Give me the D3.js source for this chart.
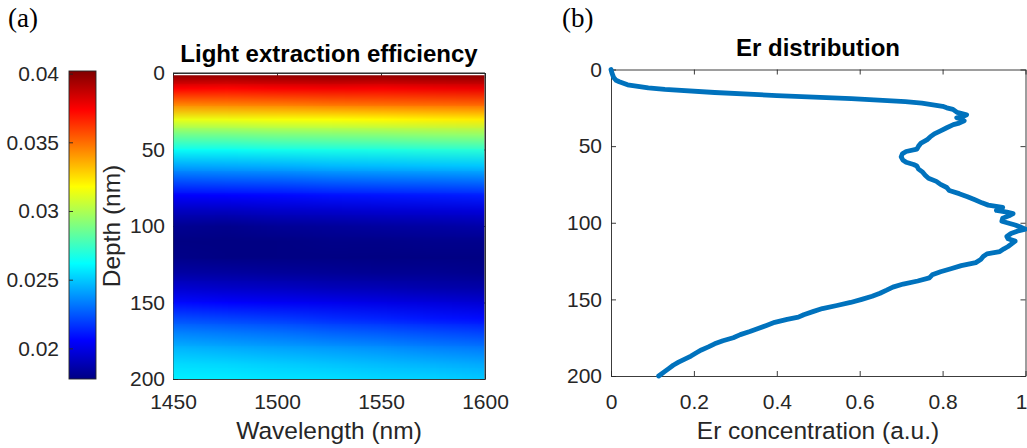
<!DOCTYPE html>
<html>
<head>
<meta charset="utf-8">
<script src="https://cdn.jsdelivr.net/npm/d3@7"></script>
<style>
body { margin: 0; background: #fff; }
svg text { font-family: "Liberation Sans", Arial, sans-serif; fill: #262626; }
</style>
</head>
<body>
<svg width="1027" height="448"></svg>
<script>
// (a) light extraction efficiency, rows = depth (nm), columns = wavelength (nm)
var wavelengths = [1450, 1475, 1500, 1525, 1550, 1575, 1600];
var depths = [0, 10, 20, 30, 40, 50, 60, 70, 80, 90, 100,
              110, 120, 130, 140, 150, 160, 170, 180, 190, 200];
var lee = [
    [0.0401, 0.0400, 0.0401, 0.0402, 0.0401, 0.0402, 0.0402],
    [0.0374, 0.0373, 0.0375, 0.0376, 0.0375, 0.0377, 0.0378],
    [0.0345, 0.0346, 0.0347, 0.0349, 0.0350, 0.0351, 0.0352],
    [0.0313, 0.0314, 0.0316, 0.0317, 0.0319, 0.0321, 0.0322],
    [0.0287, 0.0288, 0.0290, 0.0291, 0.0292, 0.0294, 0.0295],
    [0.0264, 0.0264, 0.0266, 0.0267, 0.0268, 0.0270, 0.0271],
    [0.0243, 0.0244, 0.0245, 0.0247, 0.0248, 0.0249, 0.0250],
    [0.0224, 0.0225, 0.0226, 0.0228, 0.0229, 0.0230, 0.0231],
    [0.0205, 0.0206, 0.0207, 0.0209, 0.0210, 0.0211, 0.0212],
    [0.0191, 0.0191, 0.0193, 0.0194, 0.0195, 0.0196, 0.0197],
    [0.0181, 0.0180, 0.0182, 0.0183, 0.0184, 0.0185, 0.0186],
    [0.0178, 0.0177, 0.0178, 0.0179, 0.0179, 0.0180, 0.0180],
    [0.0179, 0.0178, 0.0178, 0.0178, 0.0177, 0.0178, 0.0178],
    [0.0185, 0.0184, 0.0183, 0.0182, 0.0181, 0.0181, 0.0180],
    [0.0195, 0.0193, 0.0192, 0.0190, 0.0189, 0.0187, 0.0186],
    [0.0208, 0.0206, 0.0204, 0.0202, 0.0200, 0.0198, 0.0196],
    [0.0222, 0.0220, 0.0218, 0.0215, 0.0213, 0.0210, 0.0208],
    [0.0235, 0.0233, 0.0231, 0.0228, 0.0226, 0.0223, 0.0221],
    [0.0246, 0.0244, 0.0242, 0.0240, 0.0238, 0.0235, 0.0233],
    [0.0254, 0.0253, 0.0251, 0.0249, 0.0247, 0.0245, 0.0243],
    [0.0259, 0.0258, 0.0256, 0.0255, 0.0253, 0.0252, 0.0250]
];

// (b) Er distribution
var erDepth = [0, 2, 5, 7, 8, 10, 12, 13, 15, 17, 19, 21, 22, 24, 25, 26, 28,
    29.5, 30.5, 31.5, 32.5, 33.5, 35, 36, 38, 40, 42, 44, 46, 48, 50, 52,
    53.5, 55, 57, 59, 60.5, 62, 63, 65, 67, 69, 71, 73, 75, 77, 79, 81, 83,
    85, 87, 88.5, 90, 91, 92, 93, 94, 95.5, 97, 99, 100.5, 101.5, 103, 104.2,
    105.5, 107, 109, 110.5, 112, 113.5, 115.5, 117, 118.8, 120.3, 122, 124,
    126, 128, 130, 132, 134, 136, 138, 140, 142, 144, 146, 148, 150, 152,
    154, 156, 158, 160, 161.6, 163, 165, 167, 169, 171, 173, 175, 177, 179,
    181, 183, 185, 187, 189, 191, 193, 195, 197, 199, 200];
var erConc = [0, 0.002, 0.006, 0.012, 0.02, 0.04, 0.09, 0.13, 0.25, 0.40, 0.58,
    0.71, 0.75, 0.80, 0.81, 0.825, 0.835, 0.858, 0.85, 0.834, 0.845, 0.852,
    0.84, 0.826, 0.81, 0.795, 0.78, 0.77, 0.762, 0.748, 0.742, 0.738, 0.712,
    0.703, 0.700, 0.704, 0.712, 0.73, 0.738, 0.742, 0.752, 0.758, 0.766,
    0.785, 0.795, 0.81, 0.816, 0.84, 0.86, 0.878, 0.895, 0.91, 0.945, 0.935,
    0.93, 0.955, 0.97, 0.96, 0.945, 0.943, 0.962, 0.975, 0.99, 1.0, 0.98,
    0.965, 0.955, 0.958, 0.975, 0.968, 0.958, 0.948, 0.938, 0.907, 0.898,
    0.892, 0.88, 0.845, 0.82, 0.795, 0.775, 0.768, 0.74, 0.705, 0.68, 0.665,
    0.649, 0.63, 0.605, 0.578, 0.545, 0.51, 0.487, 0.465, 0.452, 0.425,
    0.395, 0.375, 0.355, 0.335, 0.312, 0.295, 0.27, 0.25, 0.235, 0.218,
    0.205, 0.193, 0.178, 0.163, 0.15, 0.14, 0.13, 0.12, 0.115];

var xTicksA = [1450, 1500, 1550, 1600];
var depthTicks = [0, 50, 100, 150, 200];
var cbTicks = [0.02, 0.025, 0.03, 0.035, 0.04];
var cbTickLabels = ["0.02", "0.025", "0.03", "0.035", "0.04"];
var xTicksB = [0, 0.2, 0.4, 0.6, 0.8, 1];
var xTickLabelsB = ["0", "0.2", "0.4", "0.6", "0.8", "1"];

var svg = d3.select("svg");
var axisColor = "#262626";
var tickFont = 21, labelFont = 24.5, titleFont = 24;

// jet colormap
var cmin = 0.01777, cmax = 0.04019;
var jetStops = [0, 0.125, 0.375, 0.625, 0.875, 1];
var jetColors = ["#000083", "#0000ff", "#00ffff", "#ffff00", "#ff0000", "#800000"];
var color = d3.scaleLinear()
    .domain(jetStops.map(function(t) { return cmin + t * (cmax - cmin); }))
    .range(jetColors)
    .clamp(true);

function styleAxis(g) {
    g.attr("color", axisColor)
     .attr("font-family", null)
     .attr("font-size", null);
    g.selectAll("text").attr("font-size", tickFont);
    g.selectAll("path, line").attr("stroke-width", 0.9);
}

// ---------- panel (a) ----------
var xA = d3.scaleLinear().domain([1450, 1600]).range([173, 485]);
var yA = d3.scaleLinear().domain([0, 200]).range([73, 379]);

svg.append("g")
    .attr("transform", "translate(0,379)")
    .call(d3.axisBottom(xA).tickValues(xTicksA).tickFormat(d3.format("d"))
        .tickSizeInner(-5).tickSizeOuter(0).tickPadding(15))
    .call(styleAxis);
svg.append("g")
    .attr("transform", "translate(173,0)")
    .call(d3.axisLeft(yA).tickValues(depthTicks).tickFormat(d3.format("d"))
        .tickSizeInner(-5).tickSizeOuter(0).tickPadding(8))
    .call(styleAxis);
svg.append("g")
    .attr("transform", "translate(0,73)")
    .call(d3.axisTop(xA).tickValues(xTicksA).tickFormat("")
        .tickSizeInner(-5).tickSizeOuter(0))
    .call(styleAxis);
svg.append("g")
    .attr("transform", "translate(485,0)")
    .call(d3.axisRight(yA).tickValues(depthTicks).tickFormat("")
        .tickSizeInner(-5).tickSizeOuter(0))
    .call(styleAxis);

// heat map: one pixel per data cell, smoothed by the browser when scaled
var cv = document.createElement("canvas");
cv.width = wavelengths.length;
cv.height = depths.length;
var ctx = cv.getContext("2d");
var imgData = ctx.createImageData(cv.width, cv.height);
lee.forEach(function(row, r) {
    row.forEach(function(v, c) {
        var rgb = d3.rgb(color(v));
        var k = (r * cv.width + c) * 4;
        imgData.data[k] = rgb.r;
        imgData.data[k + 1] = rgb.g;
        imgData.data[k + 2] = rgb.b;
        imgData.data[k + 3] = 255;
    });
});
ctx.putImageData(imgData, 0, 0);

var dw = (wavelengths[1] - wavelengths[0]) / 2;
var dd = (depths[1] - depths[0]) / 2;

svg.append("clipPath").attr("id", "clipA")
    .append("rect")
    .attr("x", xA(1450) + 0.5)
    .attr("y", yA(1.5))
    .attr("width", xA(1600) - xA(1450) - 1)
    .attr("height", yA(200) - yA(1.5));

svg.append("image")
    .attr("clip-path", "url(#clipA)")
    .attr("href", cv.toDataURL())
    .attr("preserveAspectRatio", "none")
    .attr("x", xA(wavelengths[0] - dw))
    .attr("y", yA(depths[0] - dd))
    .attr("width", xA(wavelengths[wavelengths.length - 1] + dw) - xA(wavelengths[0] - dw))
    .attr("height", yA(depths[depths.length - 1] + dd) - yA(depths[0] - dd));

svg.append("line")
    .attr("x1", 173).attr("x2", 485).attr("y1", 73).attr("y2", 73)
    .attr("stroke", axisColor).attr("stroke-width", 1.2);
svg.append("line")
    .attr("x1", 485).attr("x2", 485).attr("y1", 73).attr("y2", 379)
    .attr("stroke", axisColor).attr("stroke-width", 0.9);

svg.append("text")
    .attr("x", 329).attr("y", 61.5)
    .attr("text-anchor", "middle")
    .attr("font-size", titleFont)
    .attr("font-weight", "bold")
    .style("fill", "#000")
    .text("Light extraction efficiency");

svg.append("text")
    .attr("x", 329).attr("y", 439)
    .attr("text-anchor", "middle")
    .attr("font-size", labelFont)
    .text("Wavelength (nm)");

svg.append("text")
    .attr("transform", "translate(119.5,226) rotate(-90)")
    .attr("text-anchor", "middle")
    .attr("font-size", labelFont)
    .text("Depth (nm)");

// colour bar
var cbY = d3.scaleLinear().domain([cmin, cmax]).range([379, 71]);
var grad = svg.append("defs").append("linearGradient")
    .attr("id", "jetGrad")
    .attr("x1", 0).attr("y1", 1).attr("x2", 0).attr("y2", 0);
grad.selectAll("stop")
    .data(jetStops)
    .enter()
    .append("stop")
    .attr("offset", function(d) { return d; })
    .attr("stop-color", function(d, i) { return jetColors[i]; });

svg.append("rect")
    .attr("x", 69).attr("y", 71)
    .attr("width", 27).attr("height", 308)
    .attr("fill", "url(#jetGrad)")
    .attr("stroke", axisColor)
    .attr("stroke-width", 0.9);

svg.append("g")
    .attr("transform", "translate(69,0)")
    .call(d3.axisLeft(cbY).tickValues(cbTicks)
        .tickFormat(function(d, i) { return cbTickLabels[i]; })
        .tickSizeInner(-4).tickSizeOuter(0).tickPadding(10))
    .call(styleAxis)
    .select(".domain").remove();

// ---------- panel (b) ----------
var xB = d3.scaleLinear().domain([0, 1]).range([611, 1025.5]);
var yB = d3.scaleLinear().domain([0, 200]).range([69.5, 376]);

var xAxisB = svg.append("g")
    .attr("transform", "translate(0,376)")
    .call(d3.axisBottom(xB).tickValues(xTicksB)
        .tickFormat(function(d, i) { return xTickLabelsB[i]; })
        .tickSizeInner(-5).tickSizeOuter(0).tickPadding(18))
    .call(styleAxis);
// last label sits against the page edge, as in the source figure
xAxisB.selectAll(".tick text")
    .filter(function(d) { return d === 1; })
    .attr("text-anchor", "end")
    .attr("x", 1.5);

svg.append("g")
    .attr("transform", "translate(611,0)")
    .call(d3.axisLeft(yB).tickValues(depthTicks).tickFormat(d3.format("d"))
        .tickSizeInner(-5).tickSizeOuter(0).tickPadding(9))
    .call(styleAxis);
svg.append("g")
    .attr("transform", "translate(0,69.5)")
    .call(d3.axisTop(xB).tickValues(xTicksB).tickFormat("")
        .tickSizeInner(-5).tickSizeOuter(0))
    .call(styleAxis);
svg.append("g")
    .attr("transform", "translate(1025.5,0)")
    .call(d3.axisRight(yB).tickValues(depthTicks).tickFormat("")
        .tickSizeInner(-5).tickSizeOuter(0))
    .call(styleAxis);

var erLine = d3.line()
    .x(function(d, i) { return xB(erConc[i]); })
    .y(function(d) { return yB(d); });

svg.append("path")
    .datum(erDepth)
    .attr("d", erLine)
    .attr("fill", "none")
    .attr("stroke", "#0072bd")
    .attr("stroke-width", 4.8)
    .attr("stroke-linejoin", "round")
    .attr("stroke-linecap", "round");

svg.append("text")
    .attr("x", 818).attr("y", 55.5)
    .attr("text-anchor", "middle")
    .attr("font-size", titleFont)
    .attr("font-weight", "bold")
    .style("fill", "#000")
    .text("Er distribution");

svg.append("text")
    .attr("x", 818).attr("y", 439)
    .attr("text-anchor", "middle")
    .attr("font-size", labelFont)
    .text("Er concentration (a.u.)");

// panel letters
svg.append("text")
    .attr("x", 8).attr("y", 27)
    .attr("font-size", 27)
    .style("font-family", "'Liberation Serif', 'Times New Roman', serif")
    .style("fill", "#000")
    .text("(a)");
svg.append("text")
    .attr("x", 562).attr("y", 27)
    .attr("font-size", 27)
    .style("font-family", "'Liberation Serif', 'Times New Roman', serif")
    .style("fill", "#000")
    .text("(b)");
</script>
</body>
</html>
